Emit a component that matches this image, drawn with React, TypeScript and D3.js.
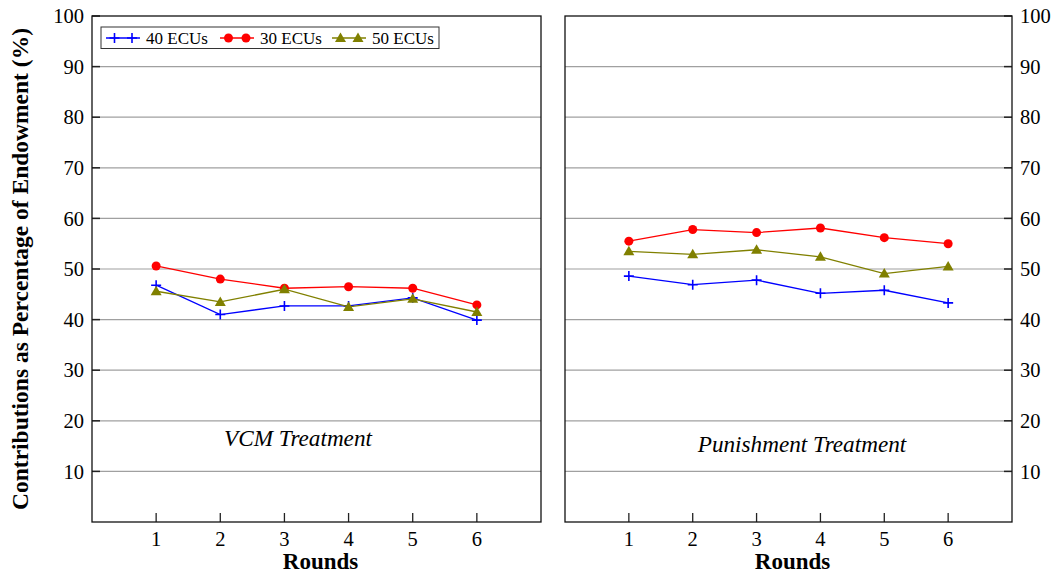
import { useEffect, useRef } from "react";
import * as d3 from "d3";

const rounds = [1, 2, 3, 4, 5, 6];
const yTicks = [10, 20, 30, 40, 50, 60, 70, 80, 90, 100];

const vcm40 = [46.8, 41.0, 42.7, 42.7, 44.3, 39.9];
const vcm30 = [50.6, 48.0, 46.2, 46.5, 46.2, 42.9];
const vcm50 = [45.6, 43.5, 46.0, 42.5, 44.1, 41.5];

const pun40 = [48.6, 46.9, 47.8, 45.2, 45.8, 43.3];
const pun30 = [55.5, 57.8, 57.2, 58.1, 56.2, 55.0];
const pun50 = [53.5, 52.9, 53.8, 52.4, 49.1, 50.5];

const seriesNames = ["40 ECUs", "30 ECUs", "50 ECUs"];
const seriesColors = ["#0000ff", "#ff0000", "#808000"];
const seriesMarkers = ["plus", "circle", "triangle"];

const W = 1052;
const H = 574;
const FONT = "'Liberation Serif', 'Times New Roman', serif";

const drawMarker = (g, type, x, y, color) => {
  if (type === "plus") {
    g.append("path")
      .attr("d", `M${x - 5},${y}H${x + 5}M${x},${y - 5}V${y + 5}`)
      .attr("stroke", color)
      .attr("stroke-width", 1.6)
      .attr("fill", "none");
  } else if (type === "circle") {
    g.append("circle").attr("cx", x).attr("cy", y).attr("r", 4.5).attr("fill", color);
  } else {
    g.append("path")
      .attr("d", `M${x},${y - 5.5}L${x + 5.5},${y + 4}L${x - 5.5},${y + 4}Z`)
      .attr("fill", color);
  }
};

const Panel = (svg, x0, x1, y0, y1, data, label, labelX, labelY, side, withLegend) => {
  const xScale = d3.scaleLinear().domain([0, 7]).range([x0, x1]);
  const yScale = d3.scaleLinear().domain([0, 100]).range([y1, y0]);
  const g = svg.append("g");

  // grelha
  g.selectAll(".grid")
    .data(yTicks.slice(0, -1))
    .enter()
    .append("line")
    .attr("x1", x0)
    .attr("x2", x1)
    .attr("y1", (d) => yScale(d))
    .attr("y2", (d) => yScale(d))
    .attr("stroke", "#a0a0a0")
    .attr("stroke-width", 1.2);

  // ticks verticais (para dentro)
  const tx = side === "left" ? x0 : x1;
  const dir = side === "left" ? 1 : -1;
  g.selectAll(".ytick")
    .data(yTicks)
    .enter()
    .append("line")
    .attr("x1", tx)
    .attr("x2", tx + dir * 8)
    .attr("y1", (d) => yScale(d))
    .attr("y2", (d) => yScale(d))
    .attr("stroke", "#222")
    .attr("stroke-width", 1.5);

  g.selectAll(".ylab")
    .data(yTicks)
    .enter()
    .append("text")
    .attr("x", side === "left" ? x0 - 8 : x1 + 8)
    .attr("y", (d) => yScale(d))
    .attr("dy", "0.35em")
    .attr("text-anchor", side === "left" ? "end" : "start")
    .style("font-family", FONT)
    .style("font-size", "20.5px")
    .text((d) => d);

  // ticks horizontais
  g.selectAll(".xtick")
    .data(rounds)
    .enter()
    .append("line")
    .attr("x1", (d) => xScale(d))
    .attr("x2", (d) => xScale(d))
    .attr("y1", y1)
    .attr("y2", y1 - 9)
    .attr("stroke", "#222")
    .attr("stroke-width", 1.3);

  g.selectAll(".xlab")
    .data(rounds)
    .enter()
    .append("text")
    .attr("x", (d) => xScale(d))
    .attr("y", y1 + 24)
    .attr("text-anchor", "middle")
    .style("font-family", FONT)
    .style("font-size", "20.5px")
    .text((d) => d);

  g.append("text")
    .attr("x", xScale(3.5) + 4)
    .attr("y", y1 + 47)
    .attr("text-anchor", "middle")
    .style("font-family", FONT)
    .style("font-size", "23px")
    .style("font-weight", "bold")
    .text("Rounds");

  g.append("rect")
    .attr("x", x0)
    .attr("y", y0)
    .attr("width", x1 - x0)
    .attr("height", y1 - y0)
    .attr("fill", "none")
    .attr("stroke", "#111")
    .attr("stroke-width", 1.3);

  // séries
  data.forEach((values, i) => {
    const line = d3
      .line()
      .x((d, j) => xScale(rounds[j]))
      .y((d) => yScale(d));
    g.append("path")
      .datum(values)
      .attr("fill", "none")
      .attr("stroke", seriesColors[i])
      .attr("stroke-width", 1.3)
      .attr("d", line);
    values.forEach((v, j) => drawMarker(g, seriesMarkers[i], xScale(rounds[j]), yScale(v), seriesColors[i]));
  });

  g.append("text")
    .attr("x", labelX)
    .attr("y", labelY)
    .attr("text-anchor", "middle")
    .style("font-family", FONT)
    .style("font-size", "23.2px")
    .style("font-style", "italic")
    .text(label);

  if (withLegend) {
    const lg = g.append("g");
    lg.append("rect")
      .attr("x", x0 + 9)
      .attr("y", y0 + 11)
      .attr("width", 338)
      .attr("height", 21.5)
      .attr("fill", "white")
      .attr("stroke", "#333")
      .attr("stroke-width", 1);
    const starts = [x0 + 14, x0 + 128, x0 + 240];
    const cy = y0 + 22;
    seriesNames.forEach((name, i) => {
      const sx = starts[i];
      lg.append("line")
        .attr("x1", sx)
        .attr("x2", sx + 34)
        .attr("y1", cy)
        .attr("y2", cy)
        .attr("stroke", seriesColors[i])
        .attr("stroke-width", 1.3);
      drawMarker(lg, seriesMarkers[i], sx + 8.5, cy, seriesColors[i]);
      drawMarker(lg, seriesMarkers[i], sx + 26, cy, seriesColors[i]);
      lg.append("text")
        .attr("x", sx + 40)
        .attr("y", cy)
        .attr("dy", "0.35em")
        .style("font-family", FONT)
        .style("font-size", "17px")
        .text(name);
    });
  }
};

export default function App() {
  const svgRef = useRef(null);

  useEffect(() => {
    const svg = d3.select(svgRef.current);
    svg.selectAll("*").remove();

    Panel(svg, 92, 541, 16, 522, [vcm40, vcm30, vcm50], "VCM Treatment", 298, 446, "left", true);
    Panel(svg, 565, 1012, 16, 522, [pun40, pun30, pun50], "Punishment Treatment", 802, 452, "right", false);

    svg
      .append("text")
      .attr("transform", `translate(28,${(16 + 522) / 2}) rotate(-90)`)
      .attr("text-anchor", "middle")
      .style("font-family", FONT)
      .style("font-size", "23.5px")
      .style("font-weight", "bold")
      .text("Contributions as Percentage of Endowment (%)");
  }, []);

  return (
    <svg
      ref={svgRef}
      width={W}
      height={H}
      style={{ position: "absolute", left: 0, top: 0, background: "white" }}
    ></svg>
  );
}
